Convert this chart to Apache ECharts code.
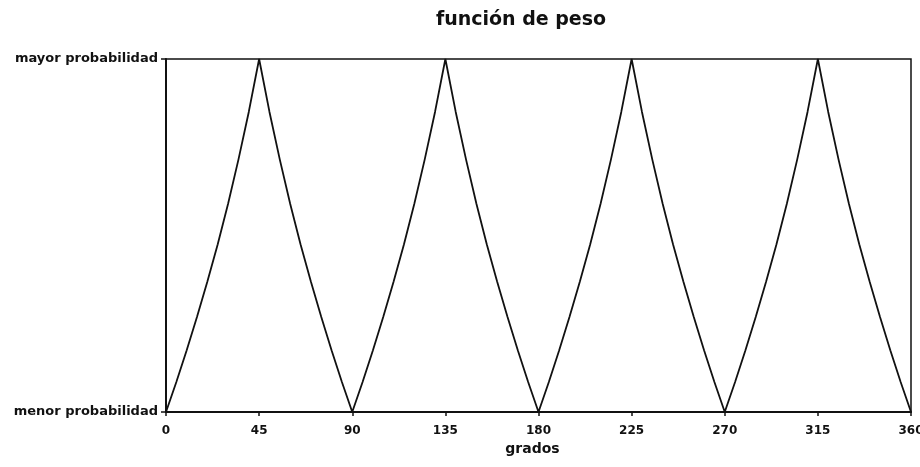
<!DOCTYPE html>
<html>
<head>
<meta charset="utf-8">
<script src="https://cdn.jsdelivr.net/npm/echarts@6/dist/echarts.min.js"></script>
<style>
  html, body { margin: 0; padding: 0; background: #fff; }
  #chart { width: 920px; height: 467px; }
</style>
</head>
<body>
<div id="chart"></div>
<script>
// Angle in degrees, sampled every 5°
const grados = [
  0, 5, 10, 15, 20, 25, 30, 35, 40, 45, 50, 55, 60, 65, 70, 75, 80, 85,
  90, 95, 100, 105, 110, 115, 120, 125, 130, 135, 140, 145, 150, 155, 160, 165, 170, 175,
  180, 185, 190, 195, 200, 205, 210, 215, 220, 225, 230, 235, 240, 245, 250, 255, 260, 265,
  270, 275, 280, 285, 290, 295, 300, 305, 310, 315, 320, 325, 330, 335, 340, 345, 350, 355,
  360
];

// Weight (0 = lowest probability, 1 = highest probability)
const peso = [
  0, 0.085, 0.175, 0.27, 0.37, 0.475, 0.59, 0.715, 0.85, 1, 0.85, 0.715, 0.59, 0.475, 0.37, 0.27, 0.175, 0.085,
  0, 0.085, 0.175, 0.27, 0.37, 0.475, 0.59, 0.715, 0.85, 1, 0.85, 0.715, 0.59, 0.475, 0.37, 0.27, 0.175, 0.085,
  0, 0.085, 0.175, 0.27, 0.37, 0.475, 0.59, 0.715, 0.85, 1, 0.85, 0.715, 0.59, 0.475, 0.37, 0.27, 0.175, 0.085,
  0, 0.085, 0.175, 0.27, 0.37, 0.475, 0.59, 0.715, 0.85, 1, 0.85, 0.715, 0.59, 0.475, 0.37, 0.27, 0.175, 0.085,
  0
];

const xTicks = [0, 45, 90, 135, 180, 225, 270, 315, 360];
const yTickLabels = ['menor probabilidad', 'mayor probabilidad'];

const FONT = '"DejaVu Sans", sans-serif';

const chart = echarts.init(document.getElementById('chart'), null, { renderer: 'canvas' });

chart.setOption({
  animation: false,
  backgroundColor: '#fff',
  title: {
    text: 'función de peso',
    left: 516,
    top: 6,
    textAlign: 'center',
    textStyle: { fontFamily: FONT, fontWeight: 'bold', fontSize: 19, color: '#111' }
  },
  grid: {
    left: 166, right: 9, top: 59, bottom: 55,
    containLabel: false,
    outerBoundsMode: 'none',
    show: true,
    borderColor: '#111',
    borderWidth: 1.5,
    backgroundColor: 'transparent'
  },
  xAxis: {
    type: 'value',
    min: xTicks[0],
    max: xTicks[xTicks.length - 1],
    interval: 45,
    name: 'grados',
    nameLocation: 'middle',
    nameGap: 27,
    nameTextStyle: {
      fontFamily: FONT, fontWeight: 'bold', fontSize: 14, color: '#111',
      padding: [0, 12, 0, 0]
    },
    axisLine: { show: true, lineStyle: { color: '#111', width: 2 } },
    axisTick: { show: true, length: 4, lineStyle: { color: '#111', width: 1.5 } },
    axisLabel: {
      margin: 13,
      fontFamily: FONT, fontWeight: 'bold', fontSize: 12, color: '#111'
    },
    splitLine: { show: false }
  },
  yAxis: {
    type: 'value',
    min: 0,
    max: 1,
    interval: 1,
    axisLine: { show: true, lineStyle: { color: '#111', width: 2 } },
    axisTick: { show: true, length: 5, lineStyle: { color: '#111', width: 1.5 } },
    axisLabel: {
      margin: 8,
      fontFamily: FONT, fontWeight: 'bold', fontSize: 13, color: '#111',
      formatter: v => yTickLabels[Math.round(v)]
    },
    splitLine: { show: false }
  },
  series: [{
    type: 'line',
    data: grados.map((g, i) => [g, peso[i]]),
    showSymbol: false,
    lineStyle: { color: '#111', width: 1.8 },
    clip: false
  }]
});
</script>
</body>
</html>
